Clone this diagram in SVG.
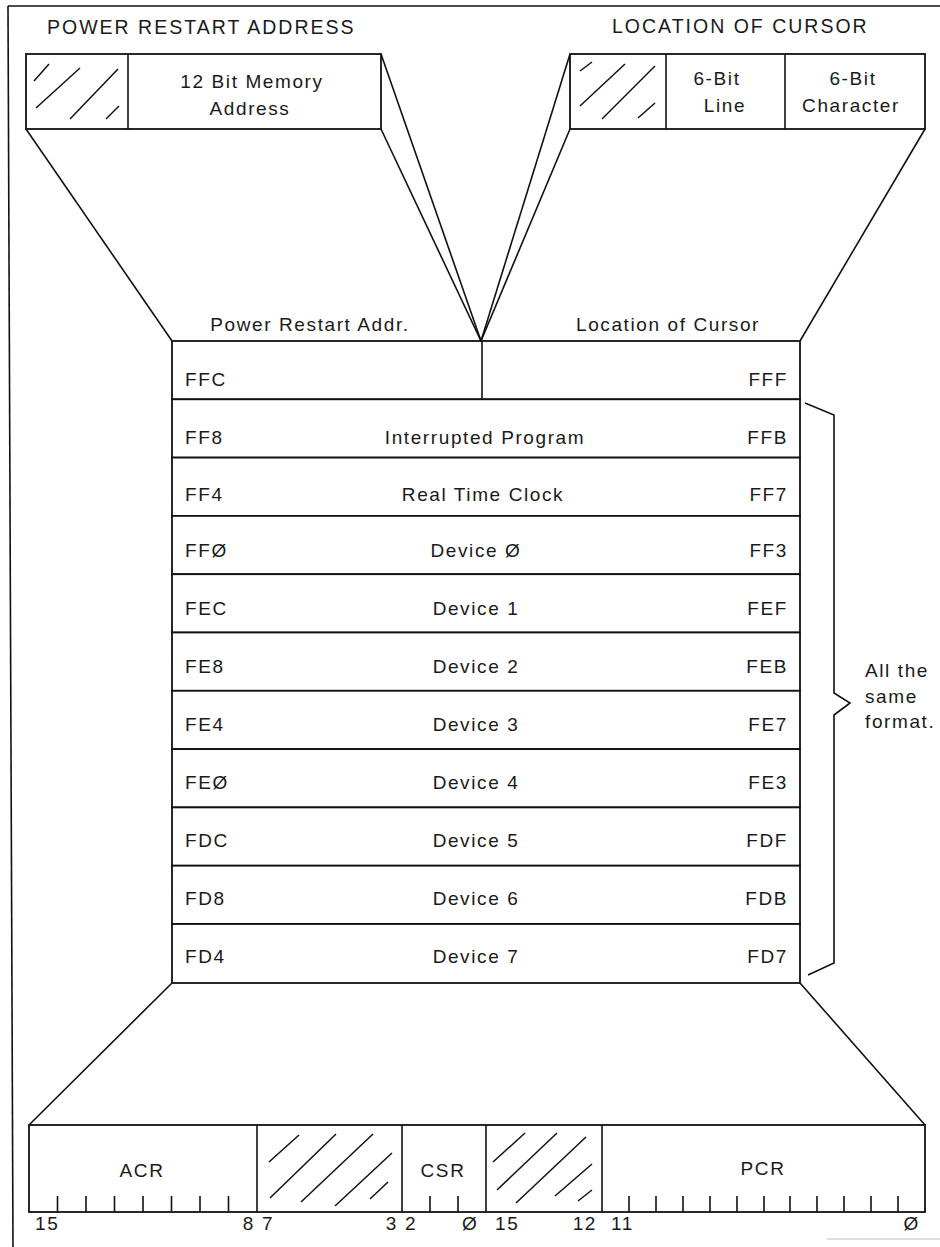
<svg xmlns="http://www.w3.org/2000/svg" width="940" height="1247" viewBox="0 0 940 1247">
<style>
text{font-family:"Liberation Sans",Arial,sans-serif;font-size:19px;fill:#1a1a1a;letter-spacing:1.6px}
.ttl{font-size:19.5px;letter-spacing:2px}
.ln{stroke:#111;stroke-width:1.6;fill:none}
.box{stroke:#111;stroke-width:1.8;fill:#fff}
.h{stroke:#111;stroke-width:1.5;fill:none}
.m{text-anchor:middle}
.e{text-anchor:end}
</style>
<rect width="940" height="1247" fill="#fff"/>
<g id="frame">
<line class="ln" x1="8" y1="6" x2="940" y2="6"/>
<line class="ln" x1="8" y1="6" x2="13" y2="1247"/>
<line x1="827" y1="1239" x2="940" y2="1239" stroke="#bbb" stroke-width="1.2"/>
</g>
<g id="connectors">
<line class="ln" x1="26" y1="129" x2="172" y2="341"/>
<line class="ln" x1="381" y1="54" x2="481" y2="341"/>
<line class="ln" x1="381" y1="129" x2="481" y2="341"/>
<line class="ln" x1="570" y1="54" x2="481" y2="341"/>
<line class="ln" x1="570" y1="129" x2="481" y2="341"/>
<line class="ln" x1="925" y1="129" x2="800" y2="341"/>
<line class="ln" x1="172" y1="983" x2="29" y2="1125"/>
<line class="ln" x1="800" y1="983" x2="925" y2="1125"/>
</g>
<g id="title-power">
<text class="ttl" x="47" y="34">POWER RESTART ADDRESS</text>
</g>
<g id="title-cursor">
<text class="ttl" x="612" y="33">LOCATION OF CURSOR</text>
</g>
<g id="reg-power">
<rect class="box" x="26" y="54" width="355" height="75"/>
<line class="ln" x1="128" y1="54" x2="128" y2="129"/>
<line class="h" x1="34" y1="81" x2="49" y2="64"/>
<line class="h" x1="36" y1="108" x2="80" y2="68"/>
<line class="h" x1="70" y1="119" x2="118" y2="69"/>
<line class="h" x1="106" y1="119" x2="119" y2="106"/>
<text class="m" x="252" y="88">12 Bit Memory</text>
<text class="m" x="250" y="115">Address</text>
</g>
<g id="reg-cursor">
<rect class="box" x="570" y="54" width="355" height="75"/>
<line class="ln" x1="666" y1="54" x2="666" y2="129"/>
<line class="ln" x1="785" y1="54" x2="785" y2="129"/>
<line class="h" x1="580" y1="71" x2="592" y2="62"/>
<line class="h" x1="580" y1="106" x2="625" y2="64"/>
<line class="h" x1="602" y1="119" x2="655" y2="66"/>
<line class="h" x1="638" y1="118" x2="655" y2="103"/>
<text class="m" x="717" y="85">6-Bit</text>
<text class="m" x="725" y="112">Line</text>
<text class="m" x="853" y="85">6-Bit</text>
<text class="m" x="851" y="112">Character</text>
</g>
<g id="map-labels">
<text class="m" x="310" y="331">Power Restart Addr.</text>
<text class="m" x="668" y="331">Location of Cursor</text>
</g>
<g id="row-ffc">
<rect class="box" x="172" y="341" width="628" height="58.3"/>
<line class="ln" x1="482" y1="341" x2="482" y2="399.3"/>
<text x="185" y="386">FFC</text>
<text class="e" x="788" y="386">FFF</text>
</g>
<g id="row-ff8">
<rect class="box" x="172" y="399.3" width="628" height="58.3"/>
<text x="185" y="444">FF8</text>
<text class="m" x="485" y="444">Interrupted Program</text>
<text class="e" x="788" y="444">FFB</text>
</g>
<g id="row-ff4">
<rect class="box" x="172" y="457.6" width="628" height="58.3"/>
<text x="185" y="501">FF4</text>
<text class="m" x="483" y="501">Real Time Clock</text>
<text class="e" x="788" y="501">FF7</text>
</g>
<g id="row-ff0">
<rect class="box" x="172" y="515.9" width="628" height="58.3"/>
<text x="185" y="557">FFØ</text>
<text class="m" x="476" y="557">Device Ø</text>
<text class="e" x="788" y="557">FF3</text>
</g>
<g id="row-fec">
<rect class="box" x="172" y="574.2" width="628" height="58.3"/>
<text x="185" y="615">FEC</text>
<text class="m" x="476" y="615">Device 1</text>
<text class="e" x="788" y="615">FEF</text>
</g>
<g id="row-fe8">
<rect class="box" x="172" y="632.5" width="628" height="58.3"/>
<text x="185" y="673">FE8</text>
<text class="m" x="476" y="673">Device 2</text>
<text class="e" x="788" y="673">FEB</text>
</g>
<g id="row-fe4">
<rect class="box" x="172" y="690.8" width="628" height="58.3"/>
<text x="185" y="731">FE4</text>
<text class="m" x="476" y="731">Device 3</text>
<text class="e" x="788" y="731">FE7</text>
</g>
<g id="row-fe0">
<rect class="box" x="172" y="749.1" width="628" height="58.3"/>
<text x="185" y="789">FEØ</text>
<text class="m" x="476" y="789">Device 4</text>
<text class="e" x="788" y="789">FE3</text>
</g>
<g id="row-fdc">
<rect class="box" x="172" y="807.4" width="628" height="58.3"/>
<text x="185" y="847">FDC</text>
<text class="m" x="476" y="847">Device 5</text>
<text class="e" x="788" y="847">FDF</text>
</g>
<g id="row-fd8">
<rect class="box" x="172" y="865.7" width="628" height="58.3"/>
<text x="185" y="905">FD8</text>
<text class="m" x="476" y="905">Device 6</text>
<text class="e" x="788" y="905">FDB</text>
</g>
<g id="row-fd4">
<rect class="box" x="172" y="924" width="628" height="59"/>
<text x="185" y="963">FD4</text>
<text class="m" x="476" y="963">Device 7</text>
<text class="e" x="788" y="963">FD7</text>
</g>
<g id="brace-note">
<polyline class="ln" points="805,403 834,415 834,693 850,703 834,715 834,963 808,975"/>
<text x="865" y="677">All the</text>
<text x="865" y="703">same</text>
<text x="865" y="728">format.</text>
</g>
<g id="reg-status">
<rect class="box" x="29" y="1125" width="896" height="87"/>
<line class="ln" x1="257" y1="1125" x2="257" y2="1212"/>
<line class="ln" x1="402" y1="1125" x2="402" y2="1212"/>
<line class="ln" x1="486" y1="1125" x2="486" y2="1212"/>
<line class="ln" x1="602" y1="1125" x2="602" y2="1212"/>
<line class="h" x1="269" y1="1162" x2="299" y2="1135"/>
<line class="h" x1="270" y1="1198" x2="336" y2="1134"/>
<line class="h" x1="301" y1="1202" x2="373" y2="1134"/>
<line class="h" x1="335" y1="1206" x2="392" y2="1153"/>
<line class="h" x1="370" y1="1199" x2="388" y2="1182"/>
<line class="h" x1="493" y1="1162" x2="525" y2="1133"/>
<line class="h" x1="497" y1="1190" x2="557" y2="1133"/>
<line class="h" x1="516" y1="1203" x2="586" y2="1137"/>
<line class="h" x1="555" y1="1196" x2="592" y2="1164"/>
<line class="h" x1="578" y1="1201" x2="592" y2="1190"/>
<path class="ln" d="M57.5 1196V1212M86 1196V1212M114.5 1196V1212M143 1196V1212M171.5 1196V1212M200 1196V1212M228.5 1196V1212M430 1196V1212M458 1196V1212M629 1196V1212M656 1196V1212M683 1196V1212M710 1196V1212M737 1196V1212M764 1196V1212M790 1196V1212M817 1196V1212M844 1196V1212M871 1196V1212M898 1196V1212"/>
<text class="m" x="142" y="1177">ACR</text>
<text class="m" x="443" y="1177">CSR</text>
<text class="m" x="763" y="1175">PCR</text>
<text x="35" y="1230">15</text>
<text class="e" x="255" y="1230">8</text>
<text x="262" y="1230">7</text>
<text class="e" x="398" y="1230">3</text>
<text x="405" y="1230">2</text>
<text x="462" y="1230">Ø</text>
<text x="495" y="1230">15</text>
<text class="e" x="597" y="1230">12</text>
<text x="611" y="1230">11</text>
<text class="e" x="920" y="1230">Ø</text>
</g>
</svg>
